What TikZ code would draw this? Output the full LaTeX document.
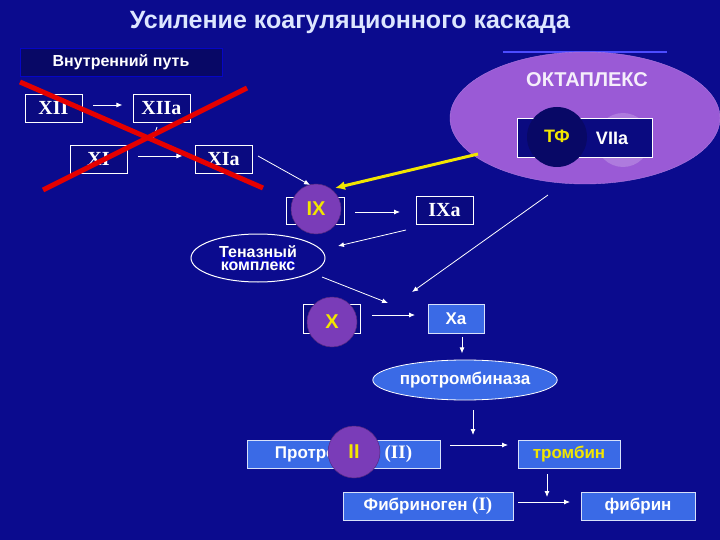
\documentclass[tikz,border=0pt]{standalone}
\usepackage{fontspec}
\setmainfont{Liberation Sans}
\newfontfamily\serifb{Liberation Serif}
\usetikzlibrary{shapes.geometric,arrows.meta}
\definecolor{bg}{HTML}{0B0B8E}
\definecolor{dbox}{HTML}{0A0A80}
\definecolor{lbox}{HTML}{3A6AE6}
\definecolor{purp}{HTML}{9A5AD6}
\definecolor{cpurp}{HTML}{7A3CB8}
\definecolor{ylw}{HTML}{F2E600}
\definecolor{ttl}{HTML}{DDE6FF}
\tikzset{
  dk/.style={draw=white,fill=dbox,line width=0.8pt,text=white,font=\serifb\bfseries\fontsize{20}{20}\selectfont,inner sep=0pt},
  lt/.style={draw=white!80!lbox,fill=lbox,line width=0.8pt,text=white,font=\bfseries\fontsize{17}{17}\selectfont,inner sep=0pt},
  ar/.style={-{Latex[length=6pt,width=5pt]},white,line width=0.8pt},
  ball/.style={circle,fill=cpurp,draw=cpurp!70!black,line width=0.5pt,minimum size=50pt,inner sep=0pt,text=ylw,font=\bfseries\fontsize{20}{20}\selectfont},
}
\begin{document}
\begin{tikzpicture}[x=1pt,y=-1pt]
\fill[bg] (0,0) rectangle (720,540);
\useasboundingbox (0,0) rectangle (720,540);
\node[text=ttl,font=\bfseries\fontsize{25}{25}\selectfont] (title) at (350,22) {Усиление коагуляционного каскада};
\node[fill=dbox!80!black,draw=blue!50!bg,line width=0.6pt,minimum width=202pt,minimum height=28pt,text=white,font=\bfseries\fontsize{16}{16}\selectfont] (inner) at (121,62) {Внутренний путь};
% octaplex
\draw[blue!70!white,line width=1.2pt] (503,52) -- (667,52);
\node[ellipse,fill=purp,draw=purp!80!white,minimum width=270pt,minimum height=132pt] (okt) at (585,118) {};
\node[text=white!90!purp,font=\bfseries\fontsize{20}{20}\selectfont] (oktt) at (587,80) {ОКТАПЛЕКС};
\node[circle,fill=purp!80!white,minimum size=54pt] (vc) at (623,140) {};
\node[draw=white,fill=dbox,line width=0.8pt,minimum width=135pt,minimum height=39pt] (tfbox) at (584.5,137.5) {};
\node[circle,fill=dbox!80!black,minimum size=60pt] (tfc) at (557,137) {};
\node[text=ylw,font=\bfseries\fontsize{18}{18}\selectfont] (tf) at (557,136) {ТФ};
\node[text=white,font=\bfseries\fontsize{18}{18}\selectfont] (vii) at (612,138) {VIIa};
% intrinsic
\node[dk,minimum width=57pt,minimum height=28pt] (xii) at (53.5,108) {XII};
\node[dk,minimum width=57pt,minimum height=28pt] (xiia) at (161.5,108) {XIIa};
\node[dk,minimum width=57pt,minimum height=28pt] (xi) at (98.5,159) {XI};
\node[dk,minimum width=57pt,minimum height=28pt] (xia) at (223.5,159) {XIa};
\draw[ar] (xii.east)++(11,-3) -- ++(29,0);
\draw[ar] (xi.east)++(11,-3) -- ++(44,0);
\draw[ar] (157,127) -- (153,139);
\draw[red!90!black,line width=5pt] (20,82) -- (263,188);
\draw[red!90!black,line width=5pt] (247,88) -- (43,190);
% IX
\node[dk,minimum width=58pt,minimum height=27pt] (ix) at (315,210.5) {};
\node[ball] (ixc) at (316,209) {IX};
\node[dk,minimum width=57pt,minimum height=28pt] (ixa) at (444.5,210) {IXa};
\draw[ar] (355,212) -- (400,212);
\draw[ar] (258,156) -- (310,185);
\draw[-{Latex[length=10pt,width=9pt]},ylw,line width=3pt] (478,154) -- (335,188);
% tenase
\node[ellipse,draw=white,line width=1pt,fill=bg,minimum width=134pt,minimum height=48pt] (ten) at (258,258) {};
\node[text=blue!55!bg,font=\bfseries\fontsize{18}{18}\selectfont] (ghost) at (258,261) {IXa+VIIIa};
\node[text=white,font=\bfseries\fontsize{16}{16}\selectfont,align=center,inner sep=0pt] (tent) at (258,258) {Теназный\\[-3pt]комплекс};
\draw[ar] (406,230) -- (338,246);
\draw[ar] (322,277) -- (388,303);
\draw[ar] (548,195) -- (412,292);
% X
\node[dk,minimum width=57pt,minimum height=29pt] (x) at (331.5,318.5) {};
\node[ball] (xc) at (332,322) {X};
\node[lt,minimum width=56pt,minimum height=29pt] (xa) at (456,318.5) {Xa};
\draw[ar] (372,315) -- (415,315);
\draw[ar] (xa.south)++(6,4) -- ++(0,16);
\node[ellipse,fill=lbox,draw=white,line width=0.8pt,minimum width=176pt,minimum height=40pt,text=white,font=\bfseries\fontsize{17}{17}\selectfont,inner sep=0pt] (ptb) at (465,380) {протромбиназа};
\draw[ar] (473,410) -- (473,435);
% bottom
\node[lt,minimum width=193pt,minimum height=28pt] (pt) at (343.5,454) {Протромбин {\serifb\bfseries\fontsize{19}{19}\selectfont (II)}};
\node[ball,minimum size=52pt] (iic) at (354,452) {II};
\node[lt,minimum width=102pt,minimum height=28pt,text=ylw] (thr) at (569,454) {тромбин};
\draw[ar] (450,445) -- (508,445);
\draw[ar] (547,474) -- (547,497);
\node[lt,minimum width=170pt,minimum height=28pt] (fg) at (428,506) {Фибриноген {\serifb\bfseries\fontsize{19}{19}\selectfont (I)}};
\node[lt,minimum width=114pt,minimum height=28pt] (fb) at (638,506) {фибрин};
\draw[ar] (518,502) -- (570,502);
\end{tikzpicture}
\end{document}
